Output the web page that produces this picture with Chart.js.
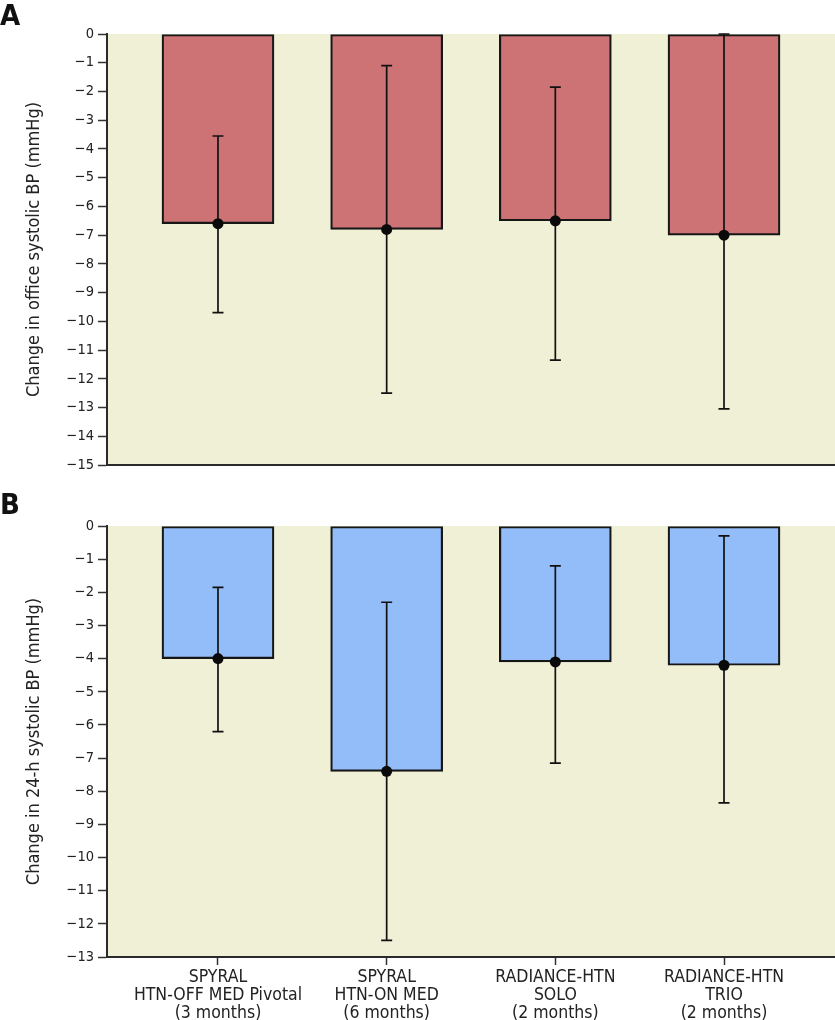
<!DOCTYPE html>
<html>
<head>
<meta charset="utf-8">
<script src="https://cdn.jsdelivr.net/npm/chart.js@4"></script>
<style>
  html, body { margin: 0; padding: 0; background: #ffffff; }
  body { width: 835px; height: 1020px; position: relative; overflow: hidden; }
  .panel { position: absolute; left: 0; width: 835px; }
  #wa { top: 0; height: 490px; }
  #wb { top: 490px; height: 530px; }
  .lbl { position: absolute; left: 0; font-family: 'Liberation Sans Narrow', 'DejaVu Sans Condensed', 'Liberation Sans', sans-serif; font-weight: bold; font-size: 29px; color: #111; line-height: 1; }
</style>
</head>
<body>
<div class="panel" id="wa"><canvas id="ca"></canvas></div>
<div class="panel" id="wb"><canvas id="cb"></canvas></div>
<div class="lbl" style="top:1px">A</div>
<div class="lbl" style="top:490px">B</div>
<script>
// ---- data ----
const categories = [
  ["SPYRAL", "HTN-OFF MED Pivotal", "(3 months)"],
  ["SPYRAL", "HTN-ON MED", "(6 months)"],
  ["RADIANCE-HTN", "SOLO", "(2 months)"],
  ["RADIANCE-HTN", "TRIO", "(2 months)"]
];
const officeMean = [-6.6, -6.8, -6.5, -7.0];
const officeLow  = [-9.7, -12.5, -11.35, -13.05];
const officeHigh = [-3.55, -1.1, -1.85, 0.0];
const ambMean = [-4.0, -7.4, -4.1, -4.2];
const ambLow  = [-6.2, -12.5, -7.15, -8.35];
const ambHigh = [-1.85, -2.3, -1.2, -0.3];
const officeTitle = "Change in office systolic BP (mmHg)";
const ambTitle = "Change in 24-h systolic BP (mmHg)";

const FONT = "'Liberation Sans Narrow', 'DejaVu Sans Condensed', 'Liberation Sans', sans-serif";
Chart.defaults.font.family = FONT;
Chart.defaults.color = '#222';
// dots sit well inside the plot; do not reserve edge padding for them
Chart.ScatterController.prototype.getMaxOverflow = function () { return 0; };

const bgPlugin = {
  id: 'plotBg',
  beforeDraw(chart) {
    const a = chart.chartArea, c = chart.ctx;
    c.save();
    c.fillStyle = '#eff0d6';
    c.fillRect(a.left, a.top, a.right - a.left, a.bottom - a.top);
    c.restore();
  }
};

const errPlugin = {
  id: 'errBars',
  afterDatasetDraw(chart, args, opts) {
    if (args.meta.type !== 'bar') return;
    const c = chart.ctx, xs = chart.scales.x, ys = chart.scales.y;
    c.save();
    c.strokeStyle = '#111';
    c.lineWidth = 1.7;
    opts.low.forEach((lo, i) => {
      const x = xs.getPixelForValue(i);
      const y1 = ys.getPixelForValue(opts.high[i]);
      const y2 = ys.getPixelForValue(lo);
      c.beginPath();
      c.moveTo(x, y1); c.lineTo(x, y2);
      c.moveTo(x - 5.5, y1); c.lineTo(x + 5.5, y1);
      c.moveTo(x - 5.5, y2); c.lineTo(x + 5.5, y2);
      c.stroke();
    });
    c.restore();
  }
};

function makeChart(id, means, lows, highs, yMin, title, color, showX, padTop, xHeight) {
  return new Chart(document.getElementById(id), {
    type: 'bar',
    data: {
      datasets: [
        {
          type: 'bar',
          data: means.map((v, i) => ({ x: i, y: v })),
          backgroundColor: color,
          borderColor: '#161616',
          borderWidth: 2.2,
          borderSkipped: false,
          barThickness: 112,
          order: 2
        },
        {
          type: 'scatter',
          data: means.map((v, i) => ({ x: i, y: v })),
          pointRadius: 5.5,
          pointBackgroundColor: '#0a0a0a',
          pointBorderColor: '#0a0a0a',
          pointBorderWidth: 0,
          showLine: false,
          clip: false,
          order: 1
        }
      ]
    },
    options: {
      responsive: true,
      maintainAspectRatio: false,
      animation: false,
      devicePixelRatio: 1,
      layout: { padding: { top: padTop, left: 0, right: 0, bottom: 0 } },
      plugins: {
        legend: { display: false },
        tooltip: { enabled: false },
        errBars: { low: lows, high: highs }
      },
      scales: {
        x: {
          type: 'linear',
          offset: false,
          min: -0.658,
          max: 3.658,
          afterBuildTicks(s) { s.ticks = categories.map((_, i) => ({ value: i })); },
          afterFit(s) { s.height = xHeight; s.paddingLeft = 0; s.paddingRight = 0; },
          ticks: {
            display: showX,
            autoSkip: false,
            maxRotation: 0,
            padding: 4,
            color: '#222',
            font: { size: 17.5, lineHeight: 1.01 },
            callback: (v) => categories[v]
          },
          grid: {
            display: showX,
            offset: false,
            drawOnChartArea: false,
            drawTicks: showX,
            tickLength: 8,
            tickWidth: 1.5,
            tickColor: '#333'
          },
          border: { display: true, color: '#2a2a2a', width: 2 }
        },
        y: {
          min: yMin,
          max: 0,
          afterFit(s) { s.width = 107; },
          ticks: {
            stepSize: 1,
            padding: 4,
            color: '#222',
            font: { size: 14.5 },
            callback: (v) => (v < 0 ? '\u2212' + Math.abs(v) : String(v))
          },
          grid: {
            drawOnChartArea: false,
            drawTicks: true,
            tickLength: 9,
            tickWidth: 1.5,
            tickColor: '#333'
          },
          border: { display: true, color: '#2a2a2a', width: 2 },
          title: {
            display: true,
            text: title,
            color: '#222',
            font: { size: 18 },
            padding: { top: 24, bottom: 0 }
          }
        }
      }
    },
    plugins: [bgPlugin, errPlugin]
  });
}

makeChart('ca', officeMean, officeLow, officeHigh, -15, officeTitle, '#ce7375', false, 34, 25);
makeChart('cb', ambMean, ambLow, ambHigh, -13, ambTitle, '#93bdf8', true, 36, 63);
</script>
</body>
</html>
